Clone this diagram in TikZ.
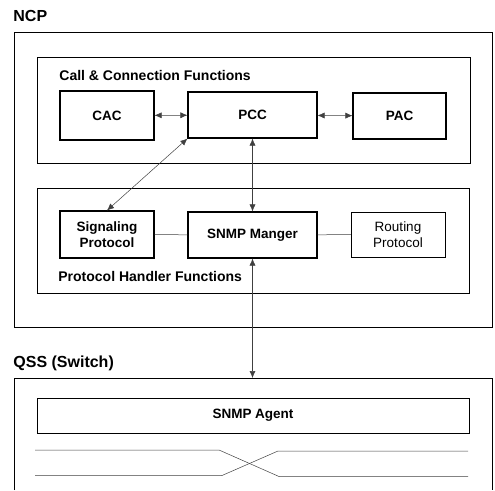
\documentclass[tikz,border=0pt]{standalone}
\usepackage{fontspec}
\setmainfont{Liberation Sans}
\usepackage{tikz}
\usetikzlibrary{arrows.meta}

\begin{document}
\begin{tikzpicture}[x=1pt,y=-1pt,thick]
  % `block' is used for the function boxes, `light' for the plain one.
  % `group' is used for the surrounding frames.
  \tikzstyle{block} = [draw,line width=1.1pt,font=\bfseries\fontsize{13.5}{15.5}\selectfont,align=center,inner sep=0pt]
  \tikzstyle{light} = [draw,line width=0.5pt,font=\fontsize{13.5}{15.5}\selectfont,align=center,inner sep=0pt]
  \tikzstyle{group} = [draw,line width=0.9pt]
  \tikzstyle{title} = [anchor=west,inner sep=0pt,font=\bfseries\fontsize{14}{16}\selectfont]
  \tikzstyle{link} = [line width=0.5pt,black!75]
  \tikzstyle{both} = [link,{Latex[length=7pt,width=6pt]}-{Latex[length=7pt,width=6pt]}]
  \useasboundingbox (0,0) rectangle (495,490);
  %
  % NCP frame and its two groups.
  \node[title,font=\bfseries\fontsize{16}{18}\selectfont] (ncp) at (13,16) {NCP};
  \draw[group] (14,32) rectangle (492,327);
  \draw[group] (37,57) rectangle (470,163);
  \draw[group] (37,188) rectangle (469,293);
  \node[title] (callfn) at (59,75) {Call \& Connection Functions};
  \node[title] (protofn) at (58,276) {Protocol Handler Functions};
  % First row.
  \node[block,minimum width=94pt,minimum height=49pt] (cac) at (107,115.5) {CAC};
  \node[block,minimum width=129pt,minimum height=46pt] (pcc) at (252.5,115) {PCC};
  \node[block,minimum width=93pt,minimum height=46pt] (pac) at (399.5,116) {PAC};
  % Second row.
  \node[block,minimum width=94pt,minimum height=47pt] (sig) at (107,234.5) {Signaling\\Protocol};
  \node[block,minimum width=129pt,minimum height=46pt] (mgr) at (252.5,235) {SNMP Manger};
  \node[light,minimum width=94pt,minimum height=45pt] (rout) at (398,234.5) {Routing\\Protocol};
  %
  % QSS frame, open at the bottom.
  \node[title,font=\bfseries\fontsize{16}{18}\selectfont] (qss) at (13,363) {QSS (Switch)};
  \draw[group] (14,490) -- (14,378) -- (492,378) -- (492,490);
  \node[block,line width=0.9pt,minimum width=432pt,minimum height=35pt] (agent) at (253,415.5) {SNMP Agent};
  \coordinate (qtop) at (252.5,378);
  % Crossing lines.
  \draw[link] (35,450) -- (219,450) -- (279,476.5) -- (468,476.5);
  \draw[link] (35,475.5) -- (222,475.5) -- (278,451) -- (468,451);
  %
  % Connectors.
  \draw[both] (cac) -- (pcc);
  \draw[both] (pcc) -- (pac);
  \draw[both] (pcc.south west) -- (sig.north);
  \draw[both] (pcc) -- (mgr);
  \draw[both] (mgr) -- (qtop);
  \draw[link] (sig) -- (mgr) (mgr) -- (rout);
\end{tikzpicture}
\end{document}
